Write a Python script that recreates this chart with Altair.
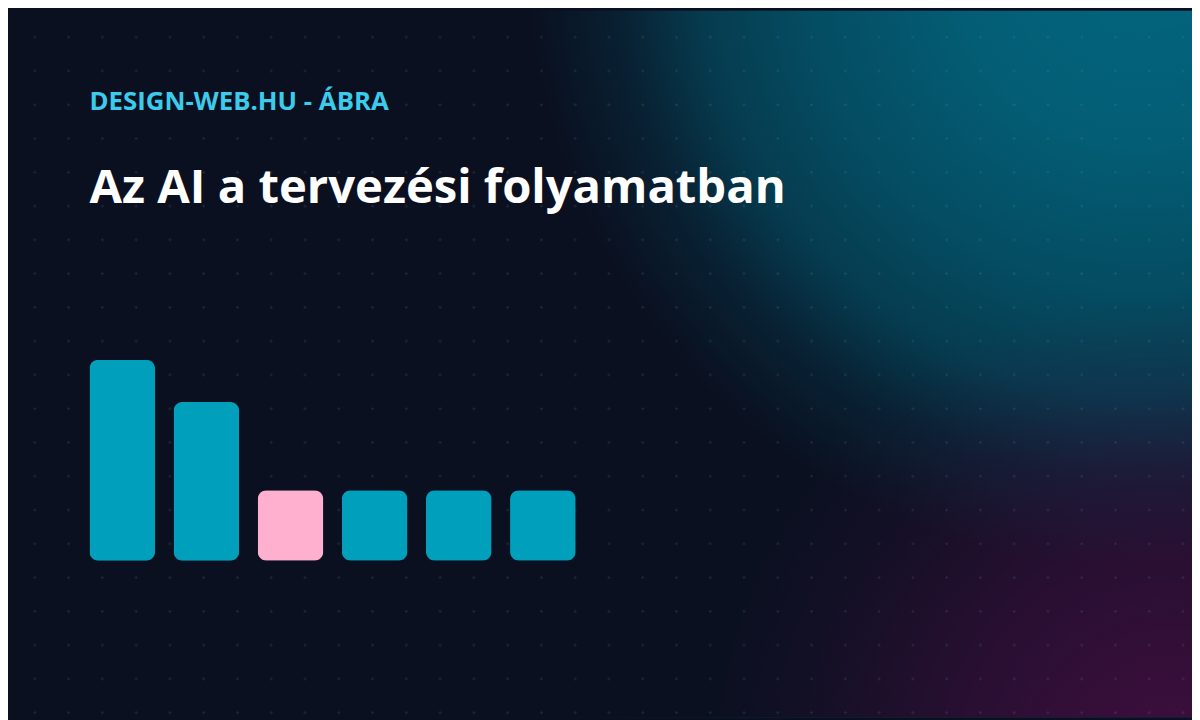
import altair as alt
import pandas as pd

# ---- data ----
categories = ["1", "2", "3", "4", "5", "6"]
values = [57, 45, 20, 20, 20, 20]
highlight = ["normal", "normal", "kiemelt", "normal", "normal", "normal"]

subtitle_text = "DESIGN-WEB.HU - ÁBRA"
title_text = "Az AI a tervezési folyamatban"

W, H = 1192, 712
BASE = "#0a1020"
TEAL = "#00a0bd"
PINK = "#ffb0cf"

bars_df = pd.DataFrame({"cat": categories, "value": values, "hl": highlight})

# decorative dot grid (background pattern)
gx = [34 * i - 7 for i in range(0, 37)]
gy = [34 * j - 7 for j in range(0, 22)]
grid_df = pd.DataFrame([{"gx": a, "gy": b} for a in gx for b in gy])

one = alt.Data(values=[{"k": 1}])

def radial(cx, cy, r, color_rgb, stops):
    return {
        "gradient": "radial",
        "x1": cx, "y1": cy, "r1": 0,
        "x2": cx, "y2": cy, "r2": r,
        "stops": [{"offset": o, "color": f"rgba({color_rgb},{a})"} for o, a in stops],
    }

full = dict(x=alt.value(0), x2=alt.value(W), y=alt.value(0), y2=alt.value(H))

teal_bg = alt.Chart(one).mark_rect(
    fill=radial(0.958, 0.153, 0.52, "2,102,126",
                [(0, 1.0), (0.3, 0.9), (0.55, 0.7), (0.72, 0.5), (0.85, 0.2), (1, 0)]),
    strokeWidth=0,
).encode(**full)

purple_bg = alt.Chart(one).mark_rect(
    fill=radial(0.985, 0.84, 0.40, "66,14,64",
                [(0, 0.95), (0.45, 0.55), (0.8, 0.15), (1, 0)]),
    strokeWidth=0,
).encode(**full)

dots = alt.Chart(grid_df).mark_point(
    shape="cross", size=10, filled=True, color="#8fb4d0", opacity=0.12, strokeWidth=0
).encode(
    x=alt.X("gx:Q", scale=None, axis=None),
    y=alt.Y("gy:Q", scale=None, axis=None),
)

bars = alt.Chart(bars_df).mark_bar(cornerRadius=9).encode(
    x=alt.X("cat:N", sort=categories, axis=None,
            scale=alt.Scale(range=[82, 571.5], paddingInner=0.22, paddingOuter=0,
                            round=False)),
    y=alt.Y("value:Q", axis=None, scale=alt.Scale(domain=[0, 100], range=[554, 199])),
    color=alt.Color("hl:N", legend=None,
                    scale=alt.Scale(domain=["normal", "kiemelt"], range=[TEAL, PINK])),
)

sub = alt.Chart(one).mark_text(
    text=subtitle_text, font="Open Sans", fontWeight="bold", fontSize=26,
    color="#3ccbea", align="left", baseline="alphabetic"
).encode(x=alt.value(82), y=alt.value(100))

title = alt.Chart(one).mark_text(
    text=title_text, font="Open Sans", fontWeight="bold", fontSize=47.5,
    color="#ffffff", align="left", baseline="alphabetic"
).encode(x=alt.value(82), y=alt.value(194))

chart = alt.layer(teal_bg, purple_bg, dots, bars, sub, title).resolve_scale(
    x="independent", y="independent", color="independent"
).properties(
    width=W, height=H, padding=0, autosize=alt.AutoSizeParams(type="none")
).configure(background=BASE).configure_view(stroke=None, strokeWidth=0)

chart.save("out.html", embed_options={"renderer": "svg", "actions": False})
